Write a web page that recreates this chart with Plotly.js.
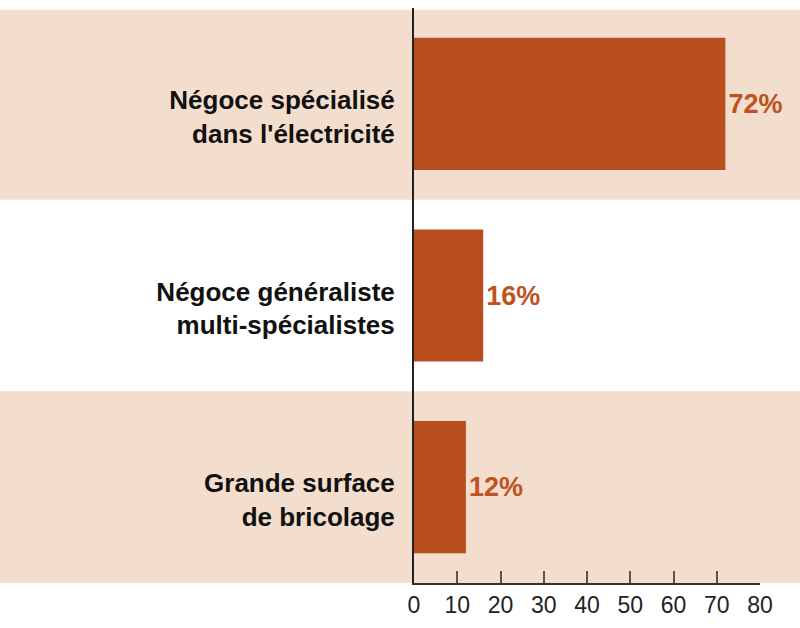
<!DOCTYPE html>
<html><head><meta charset="utf-8">
<script src="https://cdn.plot.ly/plotly-3.0.1.min.js"></script>
<style>body{margin:0;background:#fff}#c{width:800px;height:628px}</style>
</head><body><div id="c"></div>
<script>
var categories = ["Négoce spécialisé<br>dans l'électricité", "Négoce généraliste<br>multi-spécialistes", "Grande surface<br>de bricolage"];
var values = [72, 16, 12];
var tickVals = [0, 10, 20, 30, 40, 50, 60, 70, 80];

var barColor = '#b84e1d';
var bandColor = '#f3dece';

var trace = {
  type: 'bar', orientation: 'h',
  x: values, y: categories,
  marker: {color: barColor, line: {width: 0}},
  text: values.map(function(v){return v + '%';}),
  textposition: 'outside',
  textfont: {family: 'Liberation Sans, Arial, sans-serif', size: 27, color: '#c0521f', weight: 'bold'},
  constraintext: 'none',
  cliponaxis: false,
  hoverinfo: 'none'
};

var layout = {
  width: 800, height: 628,
  margin: {l: 414, r: 40, t: 8, b: 45},
  paper_bgcolor: '#ffffff', plot_bgcolor: 'rgba(0,0,0,0)',
  showlegend: false,
  bargap: 0.31,
  xaxis: {
    range: [0, 80], tickvals: tickVals, ticktext: tickVals.map(String),
    showgrid: false, zeroline: false, showline: true, linecolor: '#333', linewidth: 2,
    ticks: 'inside', ticklen: 12, tickcolor: '#555', tickwidth: 2,
    tickfont: {family: 'Liberation Sans, Arial, sans-serif', size: 23, color: '#222'},
    fixedrange: true
  },
  yaxis: {
    autorange: 'reversed', showgrid: false, zeroline: false,
    showline: true, linecolor: '#222', linewidth: 2,
    ticks: '', ticklabelstandoff: 12, ticklabelshift: -13,
    tickfont: {family: 'Liberation Sans, Arial, sans-serif', size: 26, color: '#111', weight: 'bold'},
    fixedrange: true
  },
  shapes: [
    {type: 'rect', xref: 'paper', yref: 'paper', x0: -1.5, x1: 1.5, y0: 2/3, y1: 0.997, fillcolor: bandColor, line: {width: 0}, layer: 'below'},
    {type: 'rect', xref: 'paper', yref: 'paper', x0: -1.5, x1: 1.5, y0: 0, y1: 1/3, fillcolor: bandColor, line: {width: 0}, layer: 'below'}
  ]
};

Plotly.newPlot('c', [trace], layout, {displayModeBar: false, staticPlot: true});
</script>
</body></html>
